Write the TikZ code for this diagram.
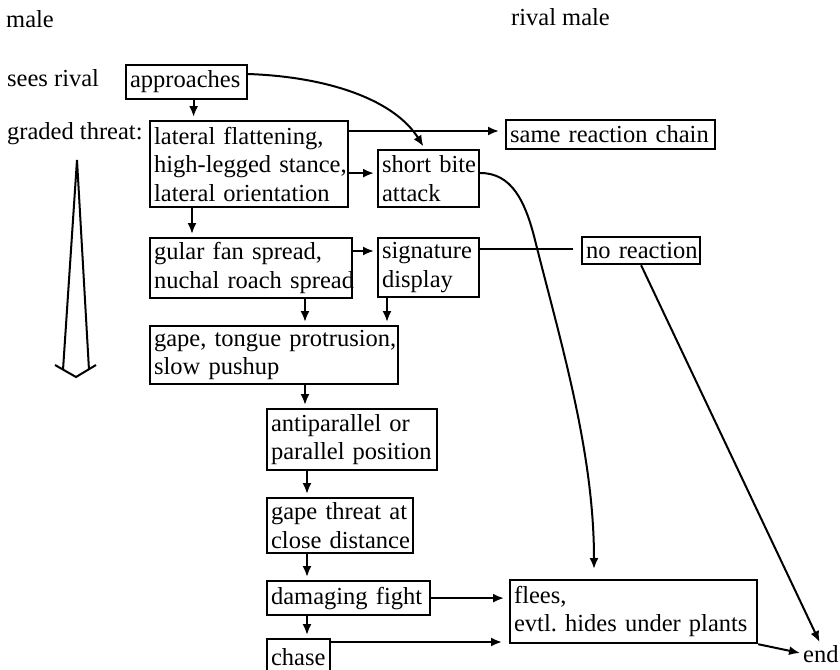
\documentclass[tikz,border=0pt]{standalone}
\usepackage{fontspec}
\setmainfont{Liberation Serif}
\usetikzlibrary{arrows.meta,calc}

\newcommand{\ol}[1]{\mbox{#1}}

\begin{document}
\begin{tikzpicture}[x=1pt,y=-1pt,
  every node/.style={font=\fontsize{24.5}{28.5}\selectfont},
  box/.style={draw, line width=2.2pt, inner xsep=4pt, inner ysep=0pt,
              align=left, anchor=north west},
  lbl/.style={inner sep=0pt, anchor=base west},
  arr/.style={line width=2pt, -{Latex[length=11pt,width=9pt]}, shorten >=3pt},
  ln/.style={line width=2pt}
]
\useasboundingbox (0,0) rectangle (840,669);

% column headings and row labels
\node[lbl] (male)   at (6,28)   {male};
\node[lbl] (rival)  at (511,26) {rival male};
\node[lbl] (sees)   at (7,86)   {sees rival};
\node[lbl] (graded) at (7,139)  {graded threat:};
\node[lbl] (endn)   at (803,662) {end};

% behaviour boxes
\node[box, text width=113pt, minimum height=34pt] (appr)  at (125,64)  {approaches};
\node[box, text width=190pt, minimum height=86pt] (lat)   at (149,120) {\ol{lateral flattening,}\\\ol{high-legged stance,}\\\ol{lateral orientation}};
\node[box, text width=93pt,  minimum height=57pt] (bite)  at (377,149) {\ol{short bite}\\attack};
\node[box, text width=201pt, minimum height=29pt] (same)  at (505,119) {\ol{same reaction chain}};
\node[box, text width=194pt, minimum height=60pt] (gular) at (149,237) {\ol{gular fan spread,}\\\ol{nuchal roach spread}};
\node[box, text width=93pt,  minimum height=59pt] (sig)   at (377,237) {signature\\display};
\node[box, text width=110pt, minimum height=27pt] (norx)  at (581,236) {\ol{no reaction}};
\node[box, text width=240pt, minimum height=58pt] (gape)  at (149,325) {\ol{gape, tongue protrusion,}\\\ol{slow pushup}};
\node[box, text width=162pt, minimum height=61pt] (anti)  at (266,408) {\ol{antiparallel or}\\\ol{parallel position}};
\node[box, text width=138pt, minimum height=55pt] (thr)   at (266,497) {\ol{gape threat at}\\\ol{close distance}};
\node[box, text width=155pt, minimum height=34pt] (fight) at (266,580) {\ol{damaging fight}};
\node[box, text width=55pt,  minimum height=36pt] (chase) at (266,638) {chase};
\node[box, text width=239pt, minimum height=63pt] (flees) at (509,579) {flees,\\\ol{evtl.\ hides under plants}};

% attachment points on the box edges
\coordinate (apprR) at ([yshift=-10pt]appr.north east);
\coordinate (biteT) at ([xshift=48pt]bite.north west);
\coordinate (latA)  at ([yshift=-11pt]lat.north east);
\coordinate (latB)  at ([yshift=-9pt]lat.east);
\coordinate (biteR) at ([yshift=-24pt]bite.north east);
\coordinate (bend)  at (535,240);
\coordinate (fleesT) at ([xshift=85pt]flees.north west);
\coordinate (gulR)  at ([yshift=-14pt]gular.north east);
\coordinate (sigR)  at ([yshift=-12pt]sig.north east);
\coordinate (apprB) at ([xshift=7pt]appr.south);
\coordinate (latD)  at ([xshift=43pt]lat.south west);
\coordinate (gulB)  at ([xshift=156pt]gular.south west);
\coordinate (sigB)  at ([xshift=10pt]sig.south west);
\coordinate (gapeB) at ([xshift=156pt]gape.south west);
\coordinate (antiB) at ([xshift=41pt]anti.south west);
\coordinate (thrB)  at ([xshift=41pt]thr.south west);
\coordinate (fightB) at ([xshift=41pt]fight.south west);
\coordinate (chaseR) at ([yshift=-4pt]chase.north east);

% main chain of the threat sequence
\draw[arr] (apprB) -- (apprB |- lat.north);
\draw[arr] (latD) -- (latD |- gular.north);
\draw[arr] (gulB) -- (gulB |- gape.north);
\draw[arr] (sigB) -- (sigB |- gape.north);
\draw[arr] (gapeB) -- (gapeB |- anti.north);
\draw[arr] (antiB) -- (antiB |- thr.north);
\draw[arr] (thrB) -- (thrB |- fight.north);
\draw[arr] (fightB) -- (fightB |- chase.north);

% side branches
\draw[arr] (latB) -- (latB -| bite.west);
\draw[arr, shorten >=6pt] (latA) -- (latA -| same.west);
\draw[arr] (gulR) -- (gulR -| sig.west);
\draw[ln, shorten >=8pt] (sigR) -- (sigR -| norx.west);
\draw[arr] (apprR) .. controls +(83,3) and +(-30,-48) .. (biteT);
\draw[arr, shorten >=10pt] (biteR) .. controls +(31,0) and +(-10,-40) .. (bend)
      .. controls +(25,100) and +(0,-128) .. (fleesT);
\draw[arr, shorten >=5pt] (fight.east) -- (fight.east -| flees.west);
\draw[arr, shorten >=7pt] (chaseR) -- (chaseR -| flees.west);
\draw[arr] (norx.south) -- (endn.north);
\draw[arr] (flees.south east) -- (endn.west);

% open arrow marking the increasing intensity of the threat
\draw[line width=2pt, line join=miter] (63,370) -- (77,160) -- (89,370);
\draw[line width=2pt] (55,365) -- (76,377) -- (96,365);
\end{tikzpicture}
\end{document}
